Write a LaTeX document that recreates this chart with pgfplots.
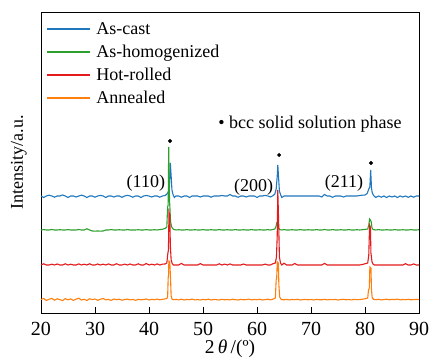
\documentclass[border=0pt]{standalone}
\usepackage{fontspec}
\setmainfont{Liberation Serif}
\usepackage{pgfplots}
\pgfplotsset{compat=1.18}
\definecolor{cblue}{RGB}{31,119,190}
\definecolor{cgreen}{RGB}{44,160,44}
\definecolor{cred}{RGB}{228,26,28}
\definecolor{corange}{RGB}{255,127,14}
\begin{document}
\begin{tikzpicture}
\begin{axis}[
  scale only axis, width=378pt, height=301pt,
  xmin=20, xmax=90, ymin=0, ymax=301,
  xtick={20,30,...,90}, ytick=\empty,
  xtick pos=bottom, tick align=inside, major tick length=6pt,
  axis line style={line width=0.9pt}, every tick/.style={black, line width=0.9pt},
  /pgf/number format/assume math mode=true,
  xticklabel style={font=\fontsize{20}{21}\selectfont, anchor=north, inner sep=0pt, yshift=-8.5pt},
  xlabel={2\,\textit{θ}\,/(º)},
  xlabel style={font=\fontsize{19.5}{20}\selectfont, at={(axis description cs:0.5,0)}, anchor=center, yshift=-36pt},
  ylabel={Intensity/a.u.},
  ylabel style={font=\fontsize{18}{20}\selectfont, at={(axis description cs:-0.037,0.5)}, anchor=south, inner sep=0pt},
]
% As-cast
\addplot[cblue, line width=1.1pt] table[row sep=\\, y expr=\thisrow{y}+117]{
x y\\
20 0\\ 20.5 -1.5\\ 21 0\\ 21.5 0.8\\ 22 0\\ 22.5 -1.2\\ 23 0\\ 23.5 0\\ 24 1.0\\ 24.5 0\\
25 -1.5\\ 25.5 0\\ 26 0\\ 26.5 -1.0\\ 27 0\\ 27.5 0.8\\ 28 0\\ 28.5 -1.5\\ 29 0\\ 29.5 0\\
30 -1.2\\ 30.5 0\\ 31 0.6\\ 31.5 0\\ 32 -1.5\\ 32.5 0\\ 33 0\\ 33.5 -1.0\\ 34 0\\ 34.5 0\\
35 -1.3\\ 35.5 0\\ 36 0.7\\ 36.5 0\\ 37 -1.2\\ 37.5 0\\ 38 0\\ 38.5 -1.5\\ 39 0\\ 39.5 0.5\\
40 0\\ 40.5 -1.0\\ 41 0\\ 41.5 0\\ 42 -1.2\\ 42.5 0\\ 43 0.5\\ 43.3 2\\ 43.6 4\\ 43.8 12\\
43.95 33\\ 44.1 20\\ 44.25 6\\ 44.45 1.5\\ 44.7 -1.5\\ 45 0\\ 45.5 0\\ 46 -1.2\\ 46.5 0\\ 47 0\\
47.5 -1.4\\ 48 0\\ 48.5 0\\ 49 0\\ 49.5 -1.0\\ 50 0\\ 50.5 0\\ 51 0\\ 51.5 -1.2\\ 52 0\\
52.5 0\\ 53 0\\ 53.5 0.5\\ 54 0\\ 54.5 0\\ 55 1.5\\ 55.5 0\\ 56 0\\ 56.5 -1.3\\ 57 0\\
57.5 0\\ 58 -1.0\\ 58.5 0\\ 59 0\\ 59.5 0\\ 60 -1.4\\ 60.5 0\\ 61 0\\ 61.5 0.6\\ 62 0\\
62.5 -1.0\\ 63 0.5\\ 63.3 2\\ 63.55 7\\ 63.75 20\\ 63.85 31\\ 64.0 18\\ 64.15 5\\ 64.35 1.5\\ 64.6 -1.5\\
65 0\\ 65.5 0\\ 66 0\\ 66.5 0\\ 67 0\\ 67.5 0\\ 68 0\\ 68.5 0\\ 69 0\\ 69.5 0\\
70 0\\ 70.5 0\\ 71 0\\ 71.5 0\\ 72 -1.0\\ 72.5 1.5\\ 73 0\\ 73.5 0\\ 74 -1.3\\ 74.5 0\\
75 0\\ 75.5 0\\ 76 -1.0\\ 76.5 0\\ 77 0\\ 77.5 0\\ 78 0\\ 78.5 0\\ 79 0.5\\ 79.5 0.8\\
80 1.0\\ 80.4 2.5\\ 80.7 7\\ 80.9 9\\ 81.05 26\\ 81.2 8\\ 81.35 3\\ 81.6 0.5\\ 82 -1.5\\ 82.5 0\\
83 -1.2\\ 83.5 0\\ 84 -1.5\\ 84.5 0\\ 85 -1.0\\ 85.5 0\\ 86 -1.5\\ 86.5 0\\ 87 -1.0\\ 87.5 0\\
88 -1.3\\ 88.5 0\\ 89 -1.2\\ 89.5 0\\ 90 0\\
};
% As-homogenized
\addplot[cgreen, line width=1.1pt] table[row sep=\\, y expr=\thisrow{y}+83]{
x y\\
20 0\\ 20.5 0.4\\ 21 0\\ 21.5 0\\ 22 0.5\\ 22.5 0\\ 23 0\\ 23.5 0.3\\ 24 0\\ 24.5 0\\
25 0.4\\ 25.5 0\\ 26 0\\ 26.5 0\\ 27 0.5\\ 27.5 0\\ 28 0\\ 28.5 1.2\\ 29 0\\ 29.5 -1.0\\
30 -1.1\\ 30.5 -1.0\\ 31 -1.1\\ 31.5 -1.0\\ 32 0\\ 32.5 0\\ 33 0.4\\ 33.5 0\\ 34 0\\ 34.5 0.3\\
35 0\\ 35.5 0\\ 36 0.4\\ 36.5 0\\ 37 0\\ 37.5 0\\ 38 0.3\\ 38.5 0\\ 39 0\\ 39.5 0.4\\
40 0\\ 40.5 0\\ 41 0.3\\ 41.5 0\\ 42 0.4\\ 42.5 0.8\\ 43 1.5\\ 43.3 3\\ 43.45 23\\ 43.55 25\\
43.65 83\\ 43.8 30\\ 44.0 8\\ 44.2 3\\ 44.5 0.8\\ 45 0\\ 45.5 0.3\\ 46 0\\ 46.5 0\\ 47 0.4\\
47.5 0\\ 48 0\\ 48.5 0.3\\ 49 0\\ 49.5 0\\ 50 0.4\\ 50.5 0\\ 51 0\\ 51.5 0.3\\ 52 0\\
52.5 0\\ 53 0.4\\ 53.5 0\\ 54 0\\ 54.5 0.3\\ 55 0\\ 55.5 0\\ 56 0.4\\ 56.5 0\\ 57 0\\
57.5 0.3\\ 58 0\\ 58.5 0\\ 59 0.4\\ 59.5 0\\ 60 0\\ 60.5 0.3\\ 61 0\\ 61.5 0\\ 62 0.4\\
62.5 0\\ 63 0.6\\ 63.3 1\\ 63.5 3\\ 63.65 7\\ 63.8 6\\ 63.95 2\\ 64.2 0.5\\ 64.5 0\\ 65 0.4\\
65.5 0\\ 66 0\\ 66.5 0.3\\ 67 0\\ 67.5 0\\ 68 0.4\\ 68.5 0\\ 69 0\\ 69.5 0.3\\ 70 0\\
70.5 0\\ 71 0.4\\ 71.5 0\\ 72 0\\ 72.5 0.5\\ 73 0\\ 73.5 0\\ 74 0.4\\ 74.5 0\\ 75 0\\
75.5 0.3\\ 76 0\\ 76.5 0\\ 77 0.4\\ 77.5 0\\ 78 0\\ 78.5 0.3\\ 79 0\\ 79.5 0.3\\ 80 0.6\\
80.5 1\\ 80.7 5\\ 80.85 11\\ 81.0 10\\ 81.15 8\\ 81.3 2\\ 81.5 0.5\\ 82 0\\ 82.5 0.4\\ 83 0\\
83.5 0\\ 84 0.3\\ 84.5 0\\ 85 0\\ 85.5 0.4\\ 86 0\\ 86.5 0\\ 87 0.3\\ 87.5 0\\ 88 0\\
88.5 0.4\\ 89 0\\ 89.5 0\\ 90 0.3\\
};
% Hot-rolled
\addplot[cred, line width=1.1pt] table[row sep=\\, y expr=\thisrow{y}+48]{
x y\\
20 0\\ 20.5 1.2\\ 21 0\\ 21.5 0\\ 22 0.8\\ 22.5 0\\ 23 1.0\\ 23.5 0\\ 24 0\\ 24.5 1.2\\
25 0\\ 25.5 0.8\\ 26 0\\ 26.5 0\\ 27 1.1\\ 27.5 0\\ 28 0.8\\ 28.5 0\\ 29 1.2\\ 29.5 0\\
30 0\\ 30.5 1.0\\ 31 0\\ 31.5 0.8\\ 32 0\\ 32.5 1.1\\ 33 0\\ 33.5 0\\ 34 1.3\\ 34.5 0\\
35 0\\ 35.5 0.9\\ 36 0\\ 36.5 1.0\\ 37 0\\ 37.5 0\\ 38 1.2\\ 38.5 0\\ 39 0\\ 39.5 1.5\\
40 0\\ 40.5 0.8\\ 41 0\\ 41.5 1.1\\ 42 0\\ 42.5 0.9\\ 43 1.0\\ 43.3 2\\ 43.5 12\\ 43.6 15\\
43.7 53\\ 43.85 50\\ 43.95 20\\ 44.1 5\\ 44.3 1.5\\ 44.5 0\\ 45 0\\ 45.5 0\\ 46 1.6\\ 46.5 0\\
47 0\\ 47.5 0\\ 48 0\\ 48.5 0\\ 49 0\\ 49.5 1.4\\ 50 0\\ 50.5 0\\ 51 0\\ 51.5 0\\
52 0\\ 52.5 0\\ 53 1.2\\ 53.5 0\\ 54 0.9\\ 54.5 0\\ 55 1.1\\ 55.5 0\\ 56 0\\ 56.5 0\\
57 0\\ 57.5 1.0\\ 58 0\\ 58.5 0\\ 59 0\\ 59.5 0\\ 60 0\\ 60.5 0\\ 61 0\\ 61.5 0.9\\
62 0\\ 62.5 0\\ 63 1.4\\ 63.4 2\\ 63.6 8\\ 63.75 30\\ 63.85 75\\ 64.0 45\\ 64.15 8\\ 64.35 2\\
64.6 0\\ 65 1.8\\ 65.5 0\\ 66 0\\ 66.5 0\\ 67 1.5\\ 67.5 0\\ 68 0\\ 68.5 0\\ 69 0\\
69.5 0\\ 70 0\\ 70.5 0\\ 71 0\\ 71.5 0\\ 72 0\\ 72.5 1.6\\ 73 0\\ 73.5 0\\ 74 0\\
74.5 0\\ 75 0\\ 75.5 0\\ 76 0\\ 76.5 0\\ 77 0\\ 77.5 0\\ 78 0\\ 78.5 0\\ 79 0\\
79.5 0.5\\ 80 1.2\\ 80.5 2\\ 80.7 10\\ 80.85 40\\ 81.0 38\\ 81.1 12\\ 81.3 3\\ 81.5 0.8\\ 81.8 0\\
82 0\\ 82.5 0\\ 83 0\\ 83.5 0\\ 84 0\\ 84.5 0\\ 85 0\\ 85.5 0\\ 86 0\\ 86.5 0\\
87 0\\ 87.5 1.3\\ 88 0\\ 88.5 0\\ 89 1.1\\ 89.5 0\\ 90 0\\
};
% Annealed
\addplot[corange, line width=1.1pt] table[row sep=\\, y expr=\thisrow{y}+13]{
x y\\
20 0.5\\ 20.5 1.5\\ 21 -0.5\\ 21.5 0.8\\ 22 1.6\\ 22.5 -0.2\\ 23 1.2\\ 23.5 0.3\\ 24 -0.6\\ 24.5 1.4\\
25 0.2\\ 25.5 1.1\\ 26 -0.4\\ 26.5 0.9\\ 27 1.7\\ 27.5 0.0\\ 28 0.7\\ 28.5 -0.5\\ 29 1.3\\ 29.5 0.4\\
30 1.0\\ 30.5 -0.3\\ 31 0.8\\ 31.5 1.5\\ 32 0.1\\ 32.5 0.6\\ 33 -0.4\\ 33.5 1.0\\ 34 0.3\\ 34.5 0.8\\
35 -0.2\\ 35.5 0.5\\ 36 0.9\\ 36.5 0.1\\ 37 0.6\\ 37.5 -0.3\\ 38 0.7\\ 38.5 0.2\\ 39 0.5\\ 39.5 1.0\\
40 0.0\\ 40.5 0.6\\ 41 0.3\\ 41.5 0.9\\ 42 0.2\\ 42.5 0.7\\ 43 1.1\\ 43.3 1.5\\ 43.45 3\\ 43.55 22\\
43.62 25\\ 43.68 39\\ 43.85 38\\ 44.0 20\\ 44.1 4\\ 44.25 1\\ 44.5 0.3\\ 45 0.6\\ 45.5 0.1\\ 46 0.8\\
46.5 0\\ 47 0.5\\ 47.5 0.3\\ 48 0.9\\ 48.5 0.1\\ 49 0.4\\ 49.5 0\\ 50 0.6\\ 50.5 0.2\\ 51 0.8\\
51.5 0.0\\ 52 0.5\\ 52.5 0.3\\ 53 0\\ 53.5 0.7\\ 54 0.2\\ 54.5 0.5\\ 55 0.1\\ 55.5 0.8\\ 56 0.3\\
56.5 0\\ 57 0.6\\ 57.5 0.2\\ 58 0.4\\ 58.5 0.9\\ 59 0.1\\ 59.5 0.5\\ 60 0.3\\ 60.5 0.7\\ 61 0.0\\
61.5 0.4\\ 62 0.8\\ 62.5 0.2\\ 63 0.9\\ 63.4 2\\ 63.55 20\\ 63.65 22\\ 63.75 38\\ 63.95 37\\ 64.05 15\\
64.2 3\\ 64.5 0.4\\ 65 0.2\\ 65.5 0.6\\ 66 0.1\\ 66.5 0.5\\ 67 0.3\\ 67.5 0.7\\ 68 0\\ 68.5 0.4\\
69 0.6\\ 69.5 0.2\\ 70 0.5\\ 70.5 0.0\\ 71 0.6\\ 71.5 0.3\\ 72 0.2\\ 72.5 0.7\\ 73 0.1\\ 73.5 0.5\\
74 0.3\\ 74.5 0.6\\ 75 0.0\\ 75.5 0.4\\ 76 0.7\\ 76.5 0.2\\ 77 0.5\\ 77.5 0.1\\ 78 0.6\\ 78.5 0.3\\
79 0.4\\ 79.5 0.8\\ 80 1.2\\ 80.5 2\\ 80.65 10\\ 80.8 12\\ 80.9 33\\ 81.1 32\\ 81.2 10\\ 81.35 2\\
81.6 0.6\\ 82 0.3\\ 82.5 0.7\\ 83 0.1\\ 83.5 0.5\\ 84 0.8\\ 84.5 0.2\\ 85 0.6\\ 85.5 0.4\\ 86 0.9\\
86.5 0.1\\ 87 0.5\\ 87.5 0.3\\ 88 0.7\\ 88.5 0.2\\ 89 0.4\\ 89.5 0.6\\ 90 0.3\\
};
% legend rows drawn through the axis: short line segments in axis units
\addplot[cblue, line width=1.3pt, forget plot] coordinates {(21.2,284) (29.0,284)};
\addplot[cgreen, line width=1.3pt, forget plot] coordinates {(21.2,261) (29.0,261)};
\addplot[cred, line width=1.3pt, forget plot] coordinates {(21.2,238) (29.0,238)};
\addplot[corange, line width=1.3pt, forget plot] coordinates {(21.2,215) (29.0,215)};
\node[font=\fontsize{18}{20}\selectfont, anchor=base west, inner sep=0pt] at (axis cs:30.2,278) {As-cast};
\node[font=\fontsize{18}{20}\selectfont, anchor=base west, inner sep=0pt] at (axis cs:30.2,255.5) {As-homogenized};
\node[font=\fontsize{18}{20}\selectfont, anchor=base west, inner sep=0pt] at (axis cs:30.2,232.5) {Hot-rolled};
\node[font=\fontsize{18}{20}\selectfont, anchor=base west, inner sep=0pt] at (axis cs:30.2,209.5) {Annealed};
% bcc markers
\addplot[only marks, mark=*, mark size=1.8pt, black, forget plot] coordinates {(43.9,172) (64.1,158) (81.1,150)};
\node[font=\fontsize{18}{20}\selectfont, anchor=east, inner sep=0pt] at (axis cs:43.0,130) {(110)};
\node[font=\fontsize{18}{20}\selectfont, anchor=east, inner sep=0pt] at (axis cs:63.0,126) {(200)};
\node[font=\fontsize{18}{20}\selectfont, anchor=east, inner sep=0pt] at (axis cs:79.7,130) {(211)};
\node[font=\fontsize{18}{20}\selectfont, inner sep=0pt] at (axis cs:69.8,189) {\textbullet\ bcc solid solution phase};
\end{axis}
\path ([xshift=-41pt,yshift=-50pt]current axis.south west) rectangle ([xshift=10pt,yshift=12pt]current axis.north east);
\end{tikzpicture}
\end{document}
